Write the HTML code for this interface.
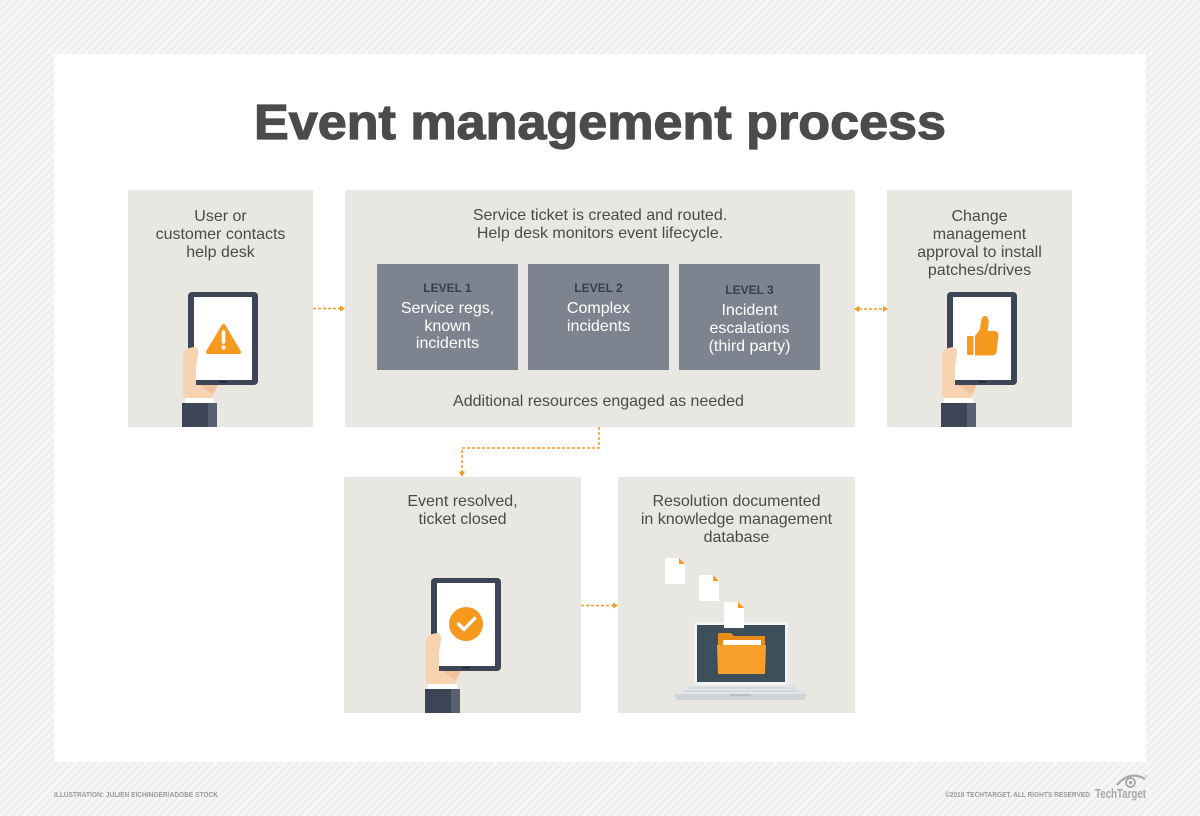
<!DOCTYPE html>
<html>
<head>
<meta charset="utf-8">
<style>
  html,body{margin:0;padding:0;}
  body{width:1200px;height:816px;overflow:hidden;
    background-color:#f1f1f1;
    background-image:repeating-linear-gradient(135deg,#f0f0f0 0px,#f0f0f0 4px,#fafafa 4px,#fafafa 5.5px);
  }
  svg{display:block;}
  .t{font-family:"Liberation Sans",Arial,sans-serif;font-size:16px;fill:#4a4a4c;text-anchor:middle;}
  .w{font-family:"Liberation Sans",Arial,sans-serif;font-size:16px;fill:#ffffff;text-anchor:middle;}
  .lv{font-family:"Liberation Sans",Arial,sans-serif;font-size:12px;font-weight:bold;fill:#343f4f;text-anchor:middle;}
  .ft{font-family:"Liberation Sans",Arial,sans-serif;font-size:7px;font-weight:bold;fill:#9a9a9a;}
</style>
</head>
<body>
<svg width="1200" height="816" viewBox="0 0 1200 816" xmlns="http://www.w3.org/2000/svg">
  <defs>
    <g id="tab">
      <rect x="0" y="0" width="70" height="93" rx="4" fill="#3c4656"/>
      <rect x="6" y="5" width="58" height="83" fill="#ffffff"/>
      <rect x="31" y="89" width="8" height="1.6" fill="#232b36"/>
    </g>
    <g id="hand">
      <path d="M-5,104 L-5,64 Q-5,58 1,56 L6,55 Q11,55.5 10,62 L8,75 L8,93 L30,93 L27,100 L24,106 L-3,106 Z" fill="#f8d3b2"/>
      <path d="M12,93 L30,93 L24,102 Z" fill="#efc29c"/>
      <rect x="-3" y="106" width="29" height="5" fill="#ffffff"/>
      <rect x="-6" y="111" width="35" height="24" fill="#3b4556"/>
      <rect x="20" y="111" width="9" height="24" fill="#56606f"/>
    </g>
  </defs>

  <!-- white panel -->
  <rect x="54" y="54" width="1092" height="708" fill="#ffffff"/>

  <!-- title -->
  <text x="254" y="139" textLength="692" lengthAdjust="spacingAndGlyphs" stroke="#4b4b4d" stroke-width="1.2" style="font-family:'Liberation Sans',Arial,sans-serif;font-size:49px;font-weight:bold;fill:#4b4b4d;">Event management process</text>

  <!-- boxes -->
  <rect x="128" y="190" width="185" height="237" fill="#e8e7e2"/>
  <rect x="345" y="190" width="510" height="237" fill="#e8e7e2"/>
  <rect x="887" y="190" width="185" height="237" fill="#e8e7e2"/>
  <rect x="344" y="477" width="237" height="236" fill="#e8e7e2"/>
  <rect x="618" y="477" width="237" height="236" fill="#e8e7e2"/>

  <!-- Box A text -->
  <text class="t" x="220.5" y="221">User or</text>
  <text class="t" x="220.5" y="239">customer contacts</text>
  <text class="t" x="220.5" y="257">help desk</text>

  <!-- Box A tablet -->
  <g transform="translate(188,292)">
    <use href="#tab"/>
    <polygon points="35.5,34 20,60 51,60" fill="#f6991f" stroke="#f6991f" stroke-width="4" stroke-linejoin="round"/>
    <line x1="35.5" y1="40" x2="35.5" y2="50" stroke="#ffffff" stroke-width="3.6" stroke-linecap="round"/>
    <circle cx="35.5" cy="55.5" r="2" fill="#ffffff"/>
    <use href="#hand"/>
  </g>

  <!-- Box B text -->
  <text class="t" x="600" y="220">Service ticket is created and routed.</text>
  <text class="t" x="600" y="238">Help desk monitors event lifecycle.</text>

  <rect x="377" y="264" width="141" height="106" fill="#7e848f"/>
  <rect x="528" y="264" width="141" height="106" fill="#7e848f"/>
  <rect x="679" y="264" width="141" height="106" fill="#7e848f"/>

  <text class="lv" x="447.5" y="292">LEVEL 1</text>
  <text class="w" x="447.5" y="313">Service regs,</text>
  <text class="w" x="447.5" y="331">known</text>
  <text class="w" x="447.5" y="348">incidents</text>

  <text class="lv" x="598.5" y="292">LEVEL 2</text>
  <text class="w" x="598.5" y="313">Complex</text>
  <text class="w" x="598.5" y="331">incidents</text>

  <text class="lv" x="749.5" y="294">LEVEL 3</text>
  <text class="w" x="749.5" y="315">Incident</text>
  <text class="w" x="749.5" y="333">escalations</text>
  <text class="w" x="749.5" y="351">(third party)</text>

  <text class="t" x="598.5" y="406">Additional resources engaged as needed</text>

  <!-- Box C -->
  <text class="t" x="979.5" y="221">Change</text>
  <text class="t" x="979.5" y="239">management</text>
  <text class="t" x="979.5" y="257">approval to install</text>
  <text class="t" x="979.5" y="275">patches/drives</text>
  <g transform="translate(947,292)">
    <use href="#tab"/>
    <rect x="20" y="44" width="6.5" height="19" rx="1.5" fill="#f6991f"/>
    <path d="M28,44 L33,37 L34,29 Q35,23 39,24 Q42.5,26 41.5,33 L40.5,39 L48,39 Q52,40 51.5,44 L49.5,60 Q48.5,63.5 45,63.5 L28,63.5 Z" fill="#f6991f"/>
    <use href="#hand"/>
  </g>

  <!-- Box D -->
  <text class="t" x="462.5" y="506">Event resolved,</text>
  <text class="t" x="462.5" y="524">ticket closed</text>
  <g transform="translate(431,578)">
    <use href="#tab"/>
    <circle cx="35" cy="46" r="17" fill="#f6991f"/>
    <polyline points="27.5,46 33,51.5 43.5,40.5" fill="none" stroke="#ffffff" stroke-width="3.4" stroke-linecap="round" stroke-linejoin="round"/>
    <use href="#hand"/>
  </g>

  <!-- Box E -->
  <text class="t" x="736.5" y="506">Resolution documented</text>
  <text class="t" x="736.5" y="524">in knowledge management</text>
  <text class="t" x="736.5" y="542">database</text>

  <!-- docs -->
  <polygon points="665,558 679,558 685,564 685,584 665,584" fill="#ffffff"/>
  <polygon points="679,558 685,564 679,564" fill="#f6991f"/>
  <polygon points="699,575 713,575 719,581 719,601 699,601" fill="#ffffff"/>
  <polygon points="713,575 719,581 713,581" fill="#f6991f"/>

  <!-- laptop -->
  <rect x="694" y="622" width="94" height="63" rx="3" fill="#f3f4f5"/>
  <rect x="697" y="625" width="88" height="57" fill="#3d4f5b"/>
  <!-- folder -->
  <path d="M718,636 L718,634 Q718,633 719,633 L731,633 L734,636 L764,636 Q765,636 765,637 L765,674 L718,674 Z" fill="#ea8c1a"/>
  <rect x="723" y="640" width="38" height="10" fill="#ffffff"/>
  <path d="M717,645 L766,645 L765,673 Q765,674 764,674 L719,674 Q718,674 718,673 Z" fill="#f8a02c"/>
  <!-- base -->
  <polygon points="687,685 795,685 807,694 674,694" fill="#e3e6e8"/>
  <line x1="688" y1="688" x2="794" y2="688" stroke="#c9ced2" stroke-width="1"/>
  <line x1="684" y1="691" x2="798" y2="691" stroke="#c9ced2" stroke-width="1"/>
  <polygon points="674,694 807,694 804,700 677,700" fill="#cfd4d8"/>
  <rect x="730" y="694" width="21" height="2" fill="#b9bfc4"/>

  <polygon points="724,602 738,602 744,608 744,628 724,628" fill="#ffffff"/>
  <polygon points="738,602 744,608 738,608" fill="#f6991f"/>

  <!-- connectors -->
  <g stroke="#f6991f" stroke-width="1.5" stroke-dasharray="3,2" fill="none">
    <line x1="313" y1="308.5" x2="341" y2="308.5"/>
    <line x1="859" y1="309" x2="883" y2="309"/>
    <line x1="581" y1="605.5" x2="613" y2="605.5"/>
    <path d="M599,427 V448 H462 V472"/>
  </g>
  <g fill="#f6991f">
    <polygon points="340,305.5 345,308.5 340,311.5"/>
    <polygon points="859,306 854,309 859,312"/>
    <polygon points="883,306 888,309 883,312"/>
    <polygon points="613,602.5 618,605.5 613,608.5"/>
    <polygon points="459,471.5 462,477 465,471.5"/>
  </g>

  <!-- footer -->
  <text class="ft" x="54" y="797" textLength="164" lengthAdjust="spacingAndGlyphs">ILLUSTRATION: JULIEN EICHINGER/ADOBE STOCK</text>
  <text class="ft" x="945" y="797" textLength="145" lengthAdjust="spacingAndGlyphs">©2018 TECHTARGET. ALL RIGHTS RESERVED</text>
  <text x="1095" y="798" textLength="51" lengthAdjust="spacingAndGlyphs" style="font-family:'Liberation Sans',Arial,sans-serif;font-size:12.5px;font-weight:bold;fill:#a8a8a8;">TechTarget</text>
  <path d="M1117,785 Q1130,770 1145,779" fill="none" stroke="#a8a8a8" stroke-width="2.2"/>
  <circle cx="1130.5" cy="782.5" r="4.5" fill="none" stroke="#a8a8a8" stroke-width="1.8"/>
  <circle cx="1130.5" cy="782.5" r="1.8" fill="#a8a8a8"/>
  <circle cx="1146" cy="776" r="0.9" fill="#a8a8a8"/>
</svg>
</body>
</html>
